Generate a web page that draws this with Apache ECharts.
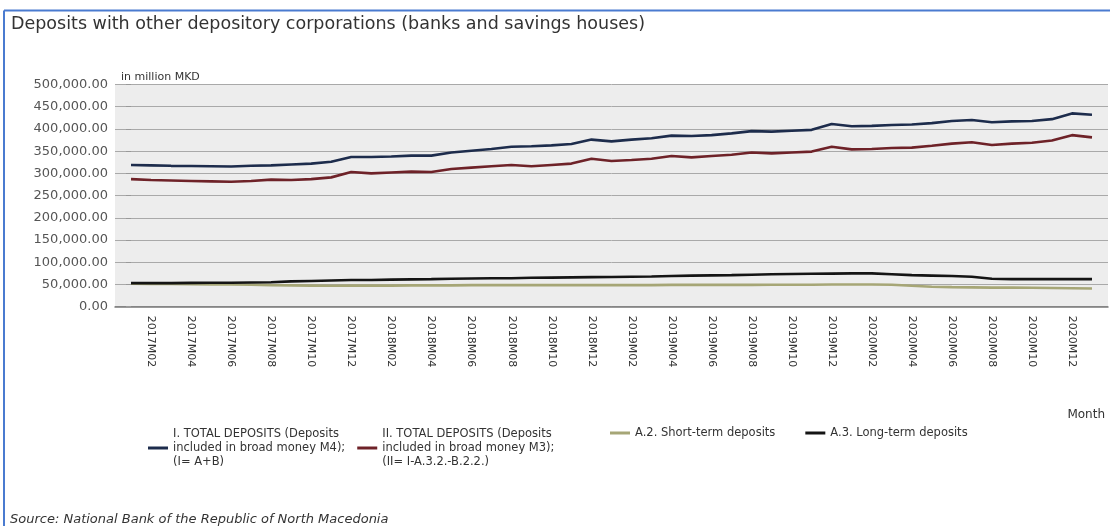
<!DOCTYPE html>
<html>
<head>
<meta charset="utf-8">
<script src="https://cdn.jsdelivr.net/npm/echarts@6/dist/echarts.min.js"></script>
<style>
html,body{margin:0;padding:0;background:#fff;}
#chart{width:1110px;height:526px;}
</style>
</head>
<body>
<div id="chart"></div>
<script>
// Months 2017M01 .. 2021M01
const months = ["2017M01","2017M02","2017M03","2017M04","2017M05","2017M06","2017M07","2017M08","2017M09","2017M10","2017M11","2017M12",
"2018M01","2018M02","2018M03","2018M04","2018M05","2018M06","2018M07","2018M08","2018M09","2018M10","2018M11","2018M12",
"2019M01","2019M02","2019M03","2019M04","2019M05","2019M06","2019M07","2019M08","2019M09","2019M10","2019M11","2019M12",
"2020M01","2020M02","2020M03","2020M04","2020M05","2020M06","2020M07","2020M08","2020M09","2020M10","2020M11","2020M12",
"2021M01"];

// values in thousands of million MKD (multiplied by 1000 when drawn)
const totalM4 = [319,318,317,316.5,316,315.5,317,318,320,322,326,337,
337,338,340,340,347,351,355,360,361,363,366,376,
372,376,379,385,384,386,390,395,394,396,398,411,
406,407,409,410,413,418,420,415,417,418,422,435,
432];
const totalM3 = [287,285,284,283,282,281,283,286,285,287,291,303,
300,302,304,303,310,313,316,319,316,319,322,333,
328,330,333,339,336,339,342,347,345,347,349,360,
354,355,357,358,362,367,370,364,367,369,374,386,
381];
const shortTerm = [51.5,51,51,50.5,50,50,49.5,48.5,48,47.5,47,47.5,
47.5,47.5,48,48,48,48.5,48.5,48.5,48.5,48.5,48.5,48.5,
48.5,48.5,48.5,49,49,49,49,49,49.5,49.5,49.5,50,
50,50,49.5,47,45,44,43.5,43,43,42.5,42,41.5,
41];
const longTerm = [53,53,53,53.5,54,54,54.5,55,57,58,59,60,
60,61,61.5,62,63,63.5,64,64,65,65.5,66,66.5,
67,67.5,68,69,70,70.5,71,72,73,73.5,74,74.5,
75,75,73,71,70,69,67.5,63,62,62,62,62,
62];

const labelIdx = [1,3,5,7,9,11,13,15,17,19,21,23,25,27,29,31,33,35,37,39,41,43,45,47];

const names = [
  "I. TOTAL DEPOSITS (Deposits\nincluded in broad money M4);\n(I= A+B)",
  "II. TOTAL DEPOSITS (Deposits\nincluded in broad money M3);\n(II= I-A.3.2.-B.2.2.)",
  "A.2. Short-term deposits",
  "A.3. Long-term deposits"
];
const colors = ["#1d2c4c","#6e2228","#a6a676","#141414"];
const seriesVals = [totalM4,totalM3,shortTerm,longTerm];

const toPts = arr => arr.map((v,i)=>[i, v*1000]);

const chart = echarts.init(document.getElementById('chart'), null, {renderer:'canvas'});
const fmt = v => v.toLocaleString('en-US',{minimumFractionDigits:2,maximumFractionDigits:2});
const legendText = {fontFamily:'DejaVu Sans', fontSize:11.5, color:'#333', lineHeight:14};

chart.setOption({
  animation:false,
  backgroundColor:'#ffffff',
  textStyle:{fontFamily:'DejaVu Sans'},
  title:[
    {text:'Deposits with other depository corporations (banks and savings houses)', left:6, top:10,
     textStyle:{fontFamily:'DejaVu Sans', fontSize:17.5, fontWeight:'normal', color:'#333'}},
    {text:'in million MKD', left:116, top:67,
     textStyle:{fontFamily:'DejaVu Sans', fontSize:11, fontWeight:'normal', color:'#333'}},
    {text:'Month', right:0, top:404, textStyle:{fontFamily:'DejaVu Sans', fontSize:12, fontWeight:'normal', color:'#333'}},
    {text:'Source: National Bank of the Republic of North Macedonia', left:5, top:508,
     textStyle:{fontFamily:'DejaVu Sans', fontSize:13, fontStyle:'italic', fontWeight:'normal', color:'#333'}}
  ],
  graphic:[
    {type:'line', shape:{x1:4,y1:10.5,x2:1110,y2:10.5}, style:{stroke:'#4a7bd0', lineWidth:2}, silent:true},
    {type:'line', shape:{x1:4,y1:10.5,x2:4,y2:526}, style:{stroke:'#4a7bd0', lineWidth:2}, silent:true}
  ],
  legend:[
    {data:[names[0],names[1]], left:143, top:422, orient:'horizontal', icon:'rect', itemWidth:20, itemHeight:3, itemGap:12,
     textStyle:legendText},
    {data:[names[2],names[3]], left:605, top:421, orient:'horizontal', icon:'rect', itemWidth:20, itemHeight:3, itemGap:30,
     textStyle:legendText}
  ],
  grid:{left:115, right:2, top:84.5, bottom:219.3, show:true, backgroundColor:'#ededed', borderWidth:0},
  xAxis:{
    type:'value', min:-0.8, max:48.8,
    axisLine:{show:true, onZero:false, lineStyle:{color:'#7a7a7a', width:1.5}},
    axisTick:{show:false},
    splitLine:{show:false},
    axisLabel:{customValues:labelIdx, rotate:-90, margin:9, fontFamily:'DejaVu Sans', fontSize:11, color:'#333',
      formatter:v=>months[Math.round(v)]}
  },
  yAxis:{
    type:'value', min:0, max:500000, interval:50000,
    axisLine:{show:false},
    axisTick:{show:true, length:5, lineStyle:{color:'#999'}},
    splitLine:{show:true, lineStyle:{color:'#a9a9a9', width:1}},
    axisLabel:{margin:7, fontFamily:'DejaVu Sans', fontSize:13, color:'#555', formatter:fmt}
  },
  series: seriesVals.map((arr,k)=>({
    name:names[k], type:'line', data:toPts(arr), showSymbol:false, symbol:'none',
    lineStyle:{color:colors[k], width:2.6}, itemStyle:{color:colors[k]},
    z: k===2 ? 2 : 3
  }))
});
</script>
</body>
</html>
